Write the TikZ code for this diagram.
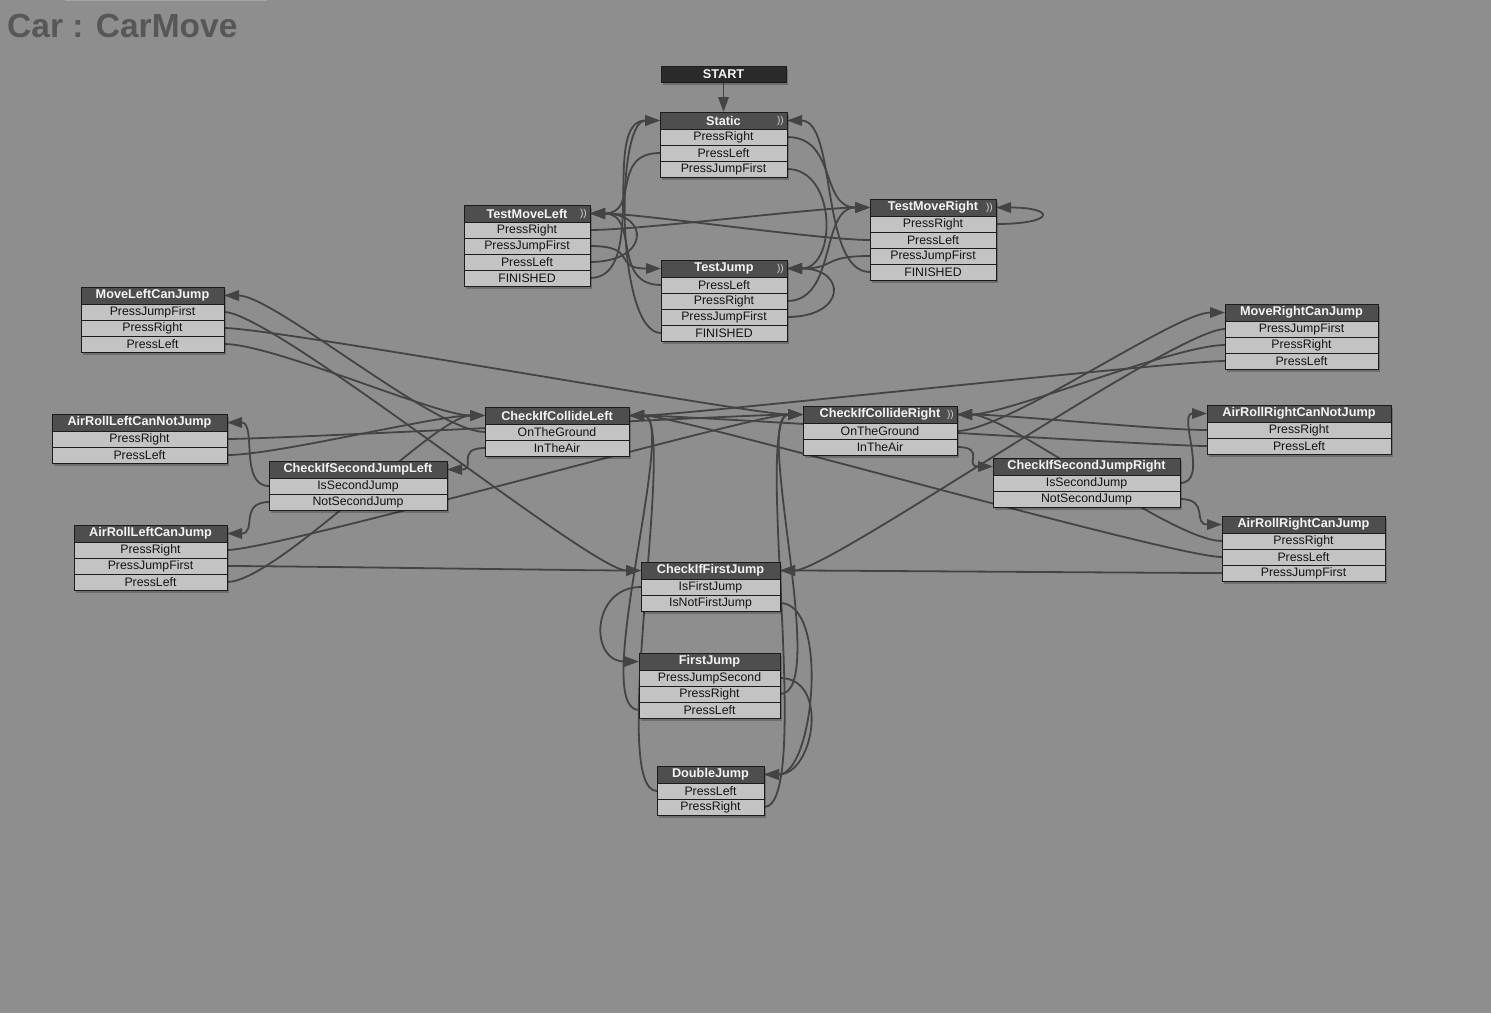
\documentclass[tikz,border=0pt]{standalone}
\usepackage{fontspec}
\setmainfont{Liberation Sans}
\usetikzlibrary{arrows.meta,shadows}

\definecolor{canvascol}{HTML}{8E8E8E}
\definecolor{stripcol}{HTML}{A6A6A6}
\definecolor{hdrcol}{HTML}{4E4E4E}
\definecolor{startcol}{HTML}{2A2A2A}
\definecolor{rowcol}{HTML}{C3C3C3}
\definecolor{edgecol}{HTML}{1C1C1C}
\definecolor{wirecol}{HTML}{444444}
\definecolor{titlecol}{HTML}{575757}
\definecolor{glyphcol}{HTML}{D8D8D8}
\definecolor{hdrtext}{HTML}{F4F4F4}
\definecolor{rowtext}{HTML}{141414}

\pgfdeclarelayer{canvas}
\pgfdeclarelayer{wires}
\pgfsetlayers{canvas,wires,main}

\tikzset{
  boxshade/.style={drop shadow={shadow xshift=1.5pt, shadow yshift=-2.5pt, opacity=.22, fill=black}},
  hdr/.style={draw=edgecol, fill=hdrcol, text=hdrtext, line width=1pt,
    font=\bfseries\fontsize{12.7}{14}\selectfont, minimum height=17pt,
    inner sep=0pt, outer sep=0pt, boxshade},
  evrow/.style={draw=edgecol, fill=rowcol, text=rowtext, line width=1pt,
    font=\fontsize{12.3}{14}\selectfont, minimum height=16pt,
    inner sep=0pt, outer sep=0pt, boxshade},
  startbox/.style={hdr, fill=startcol, minimum height=16pt},
  glyph/.style={text=glyphcol, font=\fontsize{10}{10}\selectfont, inner sep=0pt, anchor=east},
  link/.style={draw=wirecol, line width=1.8pt, -{Triangle[length=15pt,width=10.5pt]}},
}

% a state: name, left, top, width, title, list of events
\newcommand\fsm[6]{%
  \node[hdr, minimum width=#4pt, anchor=north west] (#1-0) at (#2,#3) {#5};
  \foreach \lbl [count=\k] in {#6} {
    \pgfmathtruncatemacro\prev{\k-1}
    \node[evrow, minimum width=#4pt, anchor=north] (#1-\k) at (#1-\prev.south) {\lbl};
  }%
}
% a transition: source anchor, start tangent, end tangent, target anchor
\newcommand\wire[4]{\draw[link] (#1) .. controls +(#2,0) and +(#3,0) .. (#4);}

\begin{document}
\begin{tikzpicture}[x=1pt, y=-1pt]
\begin{pgfonlayer}{canvas}
  \fill[canvascol] (0,0) rectangle (1491,1013);
  \fill[stripcol] (65,0) rectangle (267,1.3);
\end{pgfonlayer}
\useasboundingbox (0,0) rectangle (1491,1013);

\node[anchor=base west, inner sep=0pt, text=titlecol,
      font=\bfseries\fontsize{33.5}{38}\selectfont] (title) at (7,37) {Car : CarMove};

% ---- states
\node[startbox, minimum width=125pt, anchor=north west] (start) at (661,66) {START};
\fsm{static}{660}{112}{127}{Static}{PressRight,PressLeft,PressJumpFirst}
\fsm{tml}{464}{205}{126}{TestMoveLeft}{PressRight,PressJumpFirst,PressLeft,FINISHED}
\fsm{tmr}{870}{199}{126}{TestMoveRight}{PressRight,PressLeft,PressJumpFirst,FINISHED}
\fsm{tj}{661}{260}{126}{TestJump}{PressLeft,PressRight,PressJumpFirst,FINISHED}
\fsm{mlcj}{81}{287}{143}{MoveLeftCanJump}{PressJumpFirst,PressRight,PressLeft}
\fsm{arlcnj}{52}{414}{175}{AirRollLeftCanNotJump}{PressRight,PressLeft}
\fsm{csjl}{269}{461}{178}{CheckIfSecondJumpLeft}{IsSecondJump,NotSecondJump}
\fsm{arlcj}{74}{525}{153}{AirRollLeftCanJump}{PressRight,PressJumpFirst,PressLeft}
\fsm{cicl}{485}{407}{144}{CheckIfCollideLeft}{OnTheGround,InTheAir}
\fsm{cicr}{803}{406}{154}{CheckIfCollideRight}{OnTheGround,InTheAir}
\fsm{csjr}{993}{458}{187}{CheckIfSecondJumpRight}{IsSecondJump,NotSecondJump}
\fsm{mrcj}{1225}{304}{153}{MoveRightCanJump}{PressJumpFirst,PressRight,PressLeft}
\fsm{arrcnj}{1207}{405}{184}{AirRollRightCanNotJump}{PressRight,PressLeft}
\fsm{arrcj}{1222}{516}{163}{AirRollRightCanJump}{PressRight,PressLeft,PressJumpFirst}
\fsm{cifj}{641}{562}{139}{CheckIfFirstJump}{IsFirstJump,IsNotFirstJump}
\fsm{fj}{639}{653}{141}{FirstJump}{PressJumpSecond,PressRight,PressLeft}
\fsm{dj}{657}{766}{107}{DoubleJump}{PressLeft,PressRight}

% global-transition marks
\node[glyph] (static-g) at ([xshift=-3pt]static-0.east) {))};
\node[glyph] (tml-g) at ([xshift=-3pt]tml-0.east) {))};
\node[glyph] (tmr-g) at ([xshift=-3pt]tmr-0.east) {))};
\node[glyph] (tj-g) at ([xshift=-3pt]tj-0.east) {))};
\node[glyph] (cicr-g) at ([xshift=-3pt]cicr-0.east) {))};

% ---- transitions
\begin{pgfonlayer}{wires}
\draw[link] (start.south) -- (static-0.north);
\wire{static-1.east}{50}{-50}{tmr-0.west}
\wire{static-2.west}{-50}{50}{tml-0.east}
\wire{static-3.east}{50}{50}{tj-0.east}
\wire{tml-1.east}{50}{-50}{tmr-0.west}
\wire{tml-2.east}{50}{-50}{tj-0.west}
\wire{tml-3.east}{60}{60}{tml-0.east}
\wire{tml-4.east}{60}{-60}{static-0.west}
\wire{tj-1.west}{-50}{50}{tml-0.east}
\wire{tj-2.east}{50}{-50}{tmr-0.west}
\wire{tj-3.east}{60}{60}{tj-0.east}
\wire{tj-4.west}{-45}{-45}{static-0.west}
\wire{tmr-1.east}{60}{60}{tmr-0.east}
\wire{tmr-2.west}{-50}{50}{tml-0.east}
\wire{tmr-3.west}{-50}{50}{tj-0.east}
\wire{tmr-4.west}{-50}{50}{static-0.east}

\wire{mlcj-1.east}{50}{-50}{cifj-0.west}
\wire{mlcj-2.east}{50}{-50}{cicr-0.west}
\wire{mlcj-3.east}{50}{-50}{cicl-0.west}
\wire{arlcnj-1.east}{50}{-50}{cicr-0.west}
\wire{arlcnj-2.east}{50}{-50}{cicl-0.west}
\wire{arlcj-1.east}{50}{-50}{cicr-0.west}
\wire{arlcj-2.east}{50}{-50}{cifj-0.west}
\wire{arlcj-3.east}{50}{-50}{cicl-0.west}
\wire{cicl-1.west}{-50}{50}{mlcj-0.east}
\wire{cicl-2.west}{-30}{30}{csjl-0.east}
\wire{csjl-1.west}{-30}{30}{arlcnj-0.east}
\wire{csjl-2.west}{-30}{30}{arlcj-0.east}
\wire{cicr-1.east}{50}{-50}{mrcj-0.west}
\wire{cicr-2.east}{30}{-30}{csjr-0.west}
\wire{csjr-1.east}{30}{-30}{arrcnj-0.west}
\wire{csjr-2.east}{30}{-30}{arrcj-0.west}
\wire{mrcj-1.west}{-50}{50}{cifj-0.east}
\wire{mrcj-2.west}{-50}{50}{cicr-0.east}
\wire{mrcj-3.west}{-50}{50}{cicl-0.east}
\wire{arrcnj-1.west}{-50}{50}{cicr-0.east}
\wire{arrcnj-2.west}{-50}{50}{cicl-0.east}
\wire{arrcj-1.west}{-50}{50}{cicr-0.east}
\wire{arrcj-2.west}{-50}{50}{cicl-0.east}
\wire{arrcj-3.west}{-50}{50}{cifj-0.east}
\wire{cifj-1.west}{-50}{-50}{fj-0.west}
\wire{cifj-2.east}{50}{50}{dj-0.east}
\wire{fj-1.east}{50}{50}{dj-0.east}
\wire{fj-2.east}{50}{-50}{cicr-0.west}
\wire{fj-3.west}{-50}{50}{cicl-0.east}
\wire{dj-1.west}{-50}{50}{cicl-0.east}
\wire{dj-2.east}{50}{-50}{cicr-0.west}
\end{pgfonlayer}
\end{tikzpicture}
\end{document}
